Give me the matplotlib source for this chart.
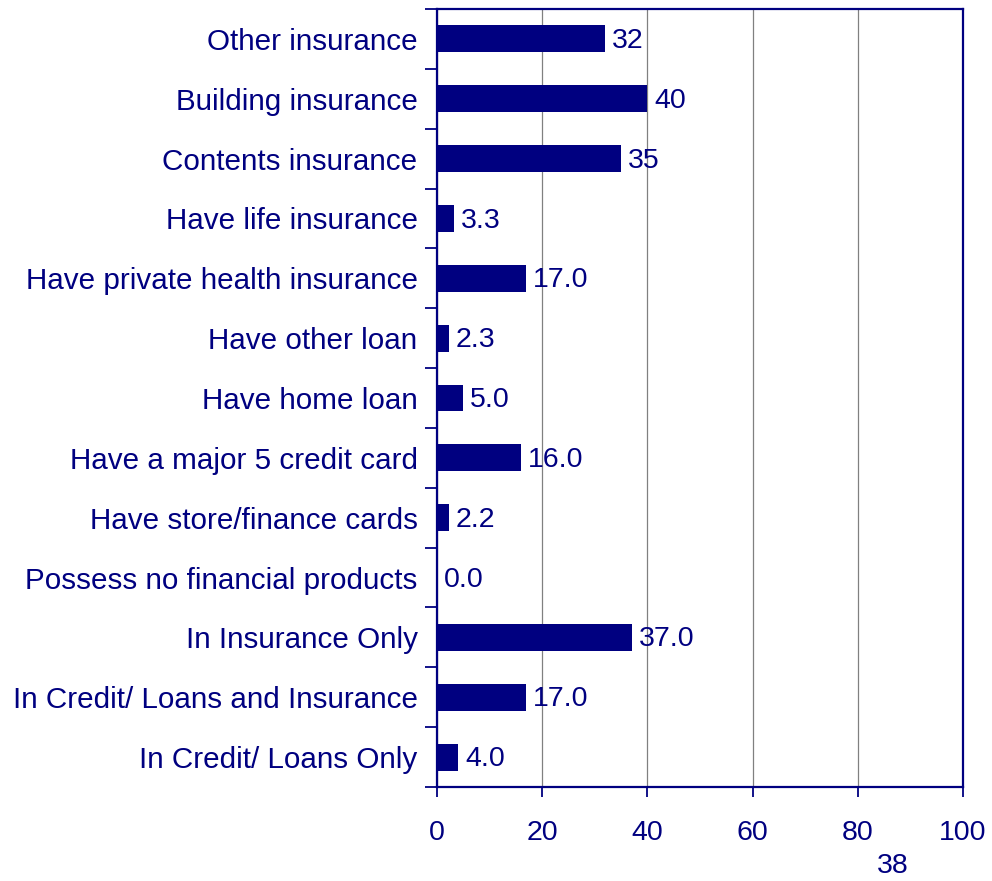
import numpy as np
import matplotlib
matplotlib.use("Agg")
from matplotlib import pyplot as plt
from matplotlib.ticker import FixedLocator, NullFormatter

NAVY = "#000080"

categories = [
    "Other insurance",
    "Building insurance",
    "Contents insurance",
    "Have life insurance",
    "Have private health insurance",
    "Have other loan",
    "Have home loan",
    "Have a major 5 credit card",
    "Have store/finance cards",
    "Possess no financial products",
    "In Insurance Only",
    "In Credit/ Loans and Insurance",
    "In Credit/ Loans Only",
]
values = [32, 40, 35, 3.3, 17.0, 2.3, 5.0, 16.0, 2.2, 0.0, 37.0, 17.0, 4.0]
value_labels = ["32", "40", "35", "3.3", "17.0", "2.3", "5.0", "16.0",
                "2.2", "0.0", "37.0", "17.0", "4.0"]
x_ticks = [0, 20, 40, 60, 80, 100]
page_number = "38"

plt.rcParams["font.family"] = ["Liberation Sans", "DejaVu Sans"]

fig = plt.figure(figsize=(9.92, 8.81), dpi=100)
ax = fig.add_axes([0.4405, 0.1067, 0.5303, 0.8831])

n = len(categories)
y = np.arange(n)[::-1]
ax.barh(y, values, height=0.45, color=NAVY, zorder=3)

for yi, v, lab in zip(y, values, value_labels):
    ax.annotate(lab, (v, yi), xytext=(5, -1.5), textcoords="offset points",
                ha="left", va="center", fontsize=20.5, color=NAVY, zorder=4)

ax.set_xlim(0, 100)
ax.set_ylim(-0.5, n - 0.5)
ax.set_xticks(x_ticks)
ax.set_xticklabels([str(t) for t in x_ticks], fontsize=20.5, color=NAVY)

# category names sit between the boundary ticks
ax.set_yticks(y)
ax.set_yticklabels(categories, fontsize=21.3, color=NAVY)
ax.tick_params(axis="y", which="major", length=0, pad=14)
ax.yaxis.set_minor_locator(FixedLocator(np.arange(n + 1) - 0.5))
ax.yaxis.set_minor_formatter(NullFormatter())
ax.tick_params(axis="y", which="minor", length=9, width=1.3, color=NAVY,
               direction="out")
ax.tick_params(axis="x", length=7, width=1.3, color=NAVY, direction="out",
               pad=17)

ax.grid(axis="x", color="#808080", linewidth=0.9, zorder=0)
for s in ax.spines.values():
    s.set_color(NAVY)
    s.set_linewidth(1.6)

fig.text(893 / 992, 1 - 866 / 881, page_number, fontsize=20.5, color=NAVY,
         ha="center", va="center")

fig.savefig("out.png", dpi=100)
